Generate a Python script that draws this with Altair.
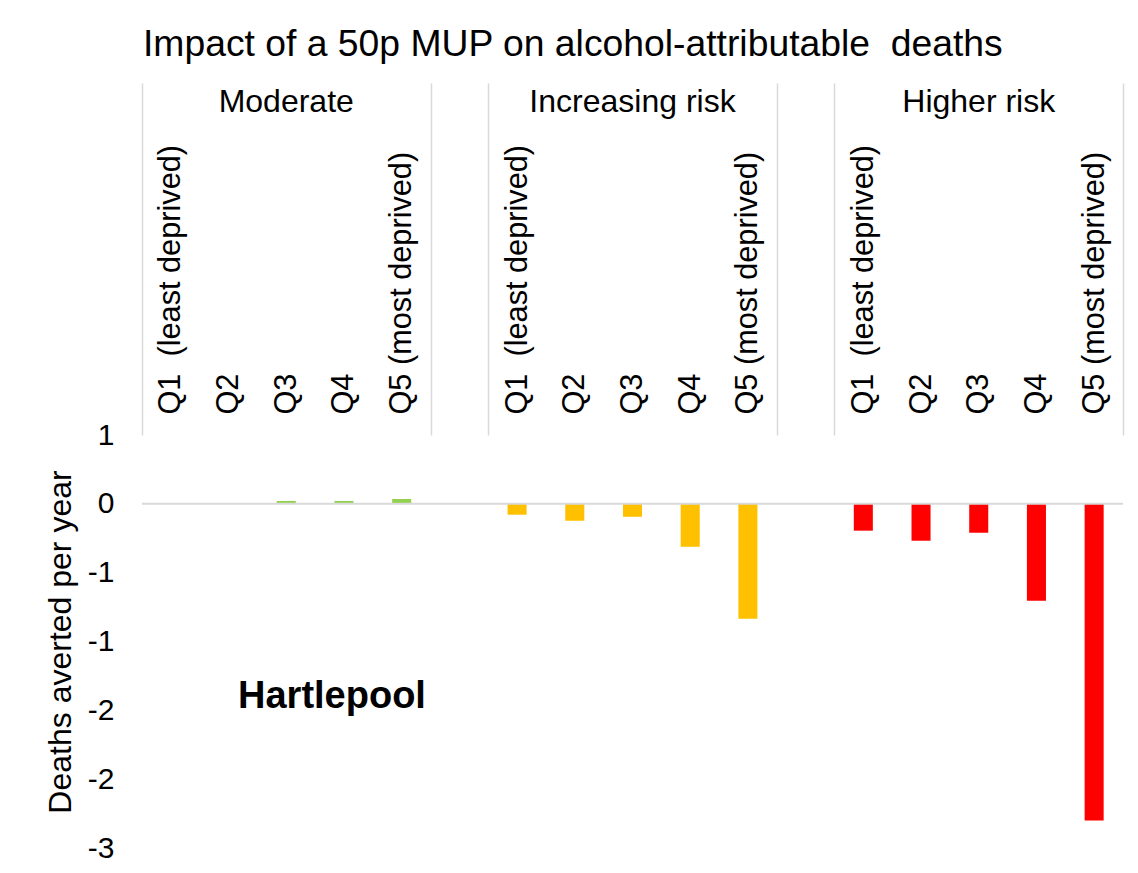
import json
import altair as alt
import pandas as pd

# ---------------- data ----------------
title_text = "Impact of a 50p MUP on alcohol-attributable\u00a0 deaths"
groups = ["Moderate", "Increasing risk", "Higher risk"]
group_colors = ["#92D050", "#FFC000", "#FF0000"]
quintiles = ["Q1\u00a0 (least deprived)", "Q2", "Q3", "Q4", "Q5 (most deprived)"]
moderate = [0.004, 0.004, 0.021, 0.021, 0.035]
increasing = [-0.079, -0.123, -0.094, -0.312, -0.834]
higher = [-0.195, -0.268, -0.210, -0.704, -2.300]
y_ticks = [0.5, 0.0, -0.5, -1.0, -1.5, -2.0, -2.5]
y_tick_labels = ["1", "0", "-1", "-1", "-2", "-2", "-3"]
y_title = "Deaths averted per year"
place = "Hartlepool"

FONT = "Liberation Sans"
prefixes = ["M", "I", "H"]

cat_keys, cat_labels = [], []
for gi, p in enumerate(prefixes):
    for qi in range(5):
        cat_keys.append(f"{p}{qi + 1}")
        cat_labels.append(quintiles[qi])
    if gi < len(prefixes) - 1:
        cat_keys.append(f"G{gi + 1}")
        cat_labels.append("")

rows = []
for g, p, vals in zip(groups, prefixes, [moderate, increasing, higher]):
    for qi, v in enumerate(vals):
        rows.append({"cat": f"{p}{qi + 1}", "group": g, "value": v})
df = pd.DataFrame(rows)

# band ends where separators are drawn (plus the start of the first band)
sep_after = ["M5", "G1", "I5", "G2", "H5"]

K = json.dumps(cat_keys, ensure_ascii=False)
L = json.dumps(cat_labels, ensure_ascii=False)
x_label_expr = f"indexof({K}, datum.value) >= 0 ? {L}[indexof({K}, datum.value)] : ''"
YV = json.dumps(y_ticks)
YL = json.dumps(y_tick_labels)
y_label_expr = f"indexof({YV}, datum.value) >= 0 ? {YL}[indexof({YV}, datum.value)] : ''"
sep_test = f"datum.extra || indexof({json.dumps(sep_after)}, datum.value) >= 0"

x_scale = alt.Scale(domain=cat_keys, paddingInner=0, paddingOuter=0)
y_scale = alt.Scale(domain=[-2.5, 0.5], nice=False, zero=False)

x_axis = alt.Axis(
    orient="top",
    title=None,
    labelAngle=270,
    labelExpr=x_label_expr,
    labelFont=FONT,
    labelFontSize=30.7,
    labelColor="black",
    labelLimit=0,
    labelPadding=-331,
    domain=False,
    ticks=True,
    tickBand="extent",
    tickSize=352,
    tickWidth=1.5,
    tickColor="#D9D9D9",
    tickOpacity={"condition": {"test": sep_test, "value": 1}, "value": 0},
    grid=False,
)
y_axis = alt.Axis(
    values=y_ticks,
    labelExpr=y_label_expr,
    ticks=False,
    domain=False,
    grid=False,
    labelPadding=28,
    labelFont=FONT,
    labelFontSize=30,
    labelColor="black",
    title=y_title,
    titleFont=FONT,
    titleFontSize=32,
    titleFontWeight="normal",
    titleColor="black",
    titlePadding=10,
)

bars = alt.Chart(df).mark_bar(width=alt.RelativeBandSize(0.33)).encode(
    x=alt.X("cat:N", scale=x_scale, sort=cat_keys, axis=x_axis),
    y=alt.Y("value:Q", scale=y_scale, axis=y_axis),
    color=alt.Color("group:N", scale=alt.Scale(domain=groups, range=group_colors), legend=None),
)

zero_df = pd.DataFrame({"y": [0.0]})
zero_line = alt.Chart(zero_df).mark_rule(color="#D9D9D9", strokeWidth=2).encode(
    y=alt.Y("y:Q", scale=y_scale, axis=y_axis)
)

grp_df = pd.DataFrame({"group": groups, "center": ["M3", "I3", "H3"]})
group_text = alt.Chart(grp_df).mark_text(
    font=FONT, fontSize=32, color="black", align="center", baseline="alphabetic"
).encode(
    x=alt.X("center:N", scale=x_scale, sort=cat_keys, axis=x_axis),
    y=alt.value(-323),
    text="group:N",
)

place_df = pd.DataFrame({"label": [place], "cat": ["M4"], "y": [-1.485]})
place_text = alt.Chart(place_df).mark_text(
    font=FONT, fontSize=38, fontWeight="bold", color="black",
    align="center", baseline="alphabetic", dx=-12,
).encode(
    x=alt.X("cat:N", scale=x_scale, sort=cat_keys, axis=x_axis),
    y=alt.Y("y:Q", scale=y_scale, axis=y_axis),
    text="label:N",
)

chart = alt.layer(bars, zero_line, group_text, place_text).properties(
    width=981,
    height=413,
    title=alt.TitleParams(
        text=title_text,
        anchor="start",
        frame="group",
        font=FONT,
        fontSize=37.3,
        fontWeight="normal",
        color="black",
        offset=18,
        dx=1,
    ),
    autosize=alt.AutoSizeParams(type="none"),
    padding={"left": 134, "top": 427, "right": 5, "bottom": 22},
).configure_view(stroke=None)

chart.save("out.html", embed_options={"renderer": "svg", "actions": False})
